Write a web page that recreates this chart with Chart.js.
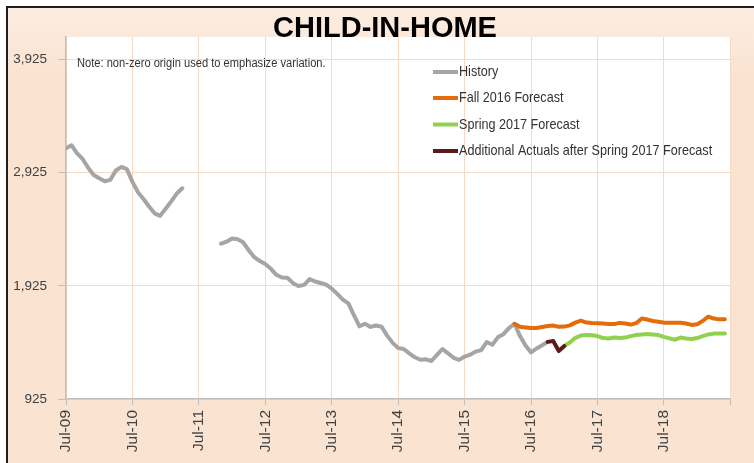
<!DOCTYPE html>
<html><head><meta charset="utf-8">
<script src="https://cdn.jsdelivr.net/npm/chart.js@4.4.1/dist/chart.umd.min.js"></script>
<style>html,body{margin:0;padding:0;background:#fff;}canvas{display:block;}</style>
</head><body>
<canvas id="c" width="754" height="463"></canvas>
<script>
// ---- data ----
const tickLabels = ['Jul-09','Jul-10','Jul-11','Jul-12','Jul-13','Jul-14','Jul-15','Jul-16','Jul-17','Jul-18',''];
// monthly values, index 0 = Jul-09
const historyValues = [
  3141,3168,3097,3047,2969,2905,2876,2850,2862,2945,2977,2957,2844,2753,2693,2627,2566,2544,2607,2672,2741,2788,
  null,null,null,null,null,null,
  2298,2316,2344,2337,2310,2240,2179,2145,2118,2076,2023,1999,1997,1949,1924,1934,1985,1964,1950,1935,
  1900,1854,1804,1771,1666,1568,1590,1562,1575,1564,1485,1421,1376,1367,1329,1294,1272,1276,1261,1315,
  1367,1329,1289,1271,1300,1317,1344,1357,1429,1405,1470,1498,1552,1590,1481,1397,1336,1372,1400,1430
];
const fallStart = 81;
const fallValues = [1590,1563,1557,1552,1552,1561,1571,1574,1563,1565,1576,1600,1618,1601,1596,1594,1592,1589,1587,1598,
  1592,1583,1596,1636,1627,1614,1608,1600,1599,1599,1599,1592,1580,1585,1614,1653,1636,1629,1629];
const springStart = 90;
const springValues = [1393,1424,1466,1486,1490,1488,1481,1464,1459,1468,1464,1468,1481,1490,1496,1499,1495,1490,1474,1461,
  1449,1468,1459,1455,1464,1481,1496,1503,1505,1505];
const actualsStart = 87;
const actualsValues = [1430,1437,1349,1393];
const seriesNames = ['History','Fall 2016 Forecast','Spring 2017 Forecast','Additional Actuals after Spring 2017 Forecast'];
const yTicks = [925,1925,2925,3925];

const SANS = "'Liberation Sans',Arial,sans-serif";

const pts = (arr, start) => arr.map((v, i) => ({x: start + i, y: v}));

function narrowText(ctx, text, x, y, sx) {
  ctx.save();
  ctx.translate(x, y);
  ctx.scale(sx, 1);
  ctx.fillText(text, 0, 0);
  ctx.restore();
}

const bgPlugin = {
  id: 'bg',
  beforeDraw(chart) {
    const {ctx, chartArea: a, width, height} = chart;
    ctx.save();
    ctx.fillStyle = '#ffffff';
    ctx.fillRect(0, 0, width, height);
    const g = ctx.createLinearGradient(0, 7, 0, height);
    g.addColorStop(0, '#FCEDE2');
    g.addColorStop(0.15, '#FAE3D1');
    g.addColorStop(1, '#FAE3D0');
    ctx.fillStyle = g;
    ctx.fillRect(7, 7, width - 7, height - 7);
    ctx.fillStyle = '#ffffff';
    ctx.fillRect(a.left, a.top, a.right - a.left, a.bottom - a.top);
    ctx.strokeStyle = '#1e1e1e';
    ctx.lineWidth = 2;
    ctx.beginPath();
    ctx.moveTo(7, height); ctx.lineTo(7, 7); ctx.lineTo(width, 7);
    ctx.stroke();
    ctx.restore();
  },
  afterDraw(chart) {
    const {ctx} = chart;
    ctx.save();
    // title
    ctx.fillStyle = '#000';
    ctx.font = "bold 29px " + SANS;
    ctx.textAlign = 'center';
    ctx.textBaseline = 'alphabetic';
    ctx.fillText('CHILD-IN-HOME', 385, 37);
    // note
    ctx.fillStyle = '#333';
    ctx.font = "12.5px " + SANS;
    ctx.textAlign = 'left';
    ctx.textBaseline = 'middle';
    narrowText(ctx, 'Note: non-zero origin used to emphasize variation.', 77, 64, 0.89);
    // legend
    const rows = [72, 98, 124.5, 151];
    chart.data.datasets.forEach((d, i) => {
      ctx.strokeStyle = d.borderColor;
      ctx.lineWidth = 4;
      ctx.beginPath();
      ctx.moveTo(433, rows[i]); ctx.lineTo(458, rows[i]);
      ctx.stroke();
      ctx.fillStyle = '#333';
      ctx.font = "14.5px " + SANS;
      narrowText(ctx, d.label, 459, rows[i], 0.87);
    });
    ctx.restore();
  }
};

new Chart(document.getElementById('c'), {
  type: 'line',
  data: {
    datasets: [
      {label: seriesNames[0], data: pts(historyValues, 0), borderColor: '#A5A5A5', order: 3},
      {label: seriesNames[1], data: pts(fallValues, fallStart), borderColor: '#E46C0A', order: 2},
      {label: seriesNames[2], data: pts(springValues, springStart), borderColor: '#92D050', order: 1},
      {label: seriesNames[3], data: pts(actualsValues, actualsStart), borderColor: '#5C1A1A', order: 0}
    ]
  },
  options: {
    responsive: false,
    animation: false,
    events: [],
    layout: {padding: {left: 0, top: 37, right: 17, bottom: 0}},
    elements: {
      line: {borderWidth: 4, tension: 0, borderCapStyle: 'round', borderJoinStyle: 'round', fill: false},
      point: {radius: 0}
    },
    spanGaps: false,
    plugins: {legend: {display: false}, title: {display: false}, tooltip: {enabled: false}},
    scales: {
      x: {
        type: 'linear', min: 0, max: 120,
        afterFit(s) { s.height = 64; },
        afterBuildTicks(s) { s.ticks = tickLabels.map((t, i) => ({value: i * 12})); },
        grid: {color: '#F8DAC4', lineWidth: 1, tickColor: '#BFBFBF', tickLength: 6, drawTicks: true},
        border: {color: '#BFBFBF', width: 1.5},
        ticks: {
          autoSkip: false, maxRotation: 90, minRotation: 90, padding: 5,
          color: '#404040', font: {family: SANS, size: 15.5},
          callback: (v) => tickLabels[Math.round(v / 12)]
        }
      },
      y: {
        min: 925, max: 4125,
        afterFit(s) { s.width = 66; },
        afterBuildTicks(s) { s.ticks = yTicks.map(v => ({value: v})); },
        grid: {color: '#F8DAC4', lineWidth: 1, tickColor: '#BFBFBF', tickLength: 8},
        border: {color: '#BFBFBF', width: 1.5},
        ticks: {
          padding: 11, color: '#404040', font: {family: SANS, size: 13.5},
          callback: (v) => v.toLocaleString('en-US')
        }
      }
    }
  },
  plugins: [bgPlugin]
});
</script>
</body></html>
